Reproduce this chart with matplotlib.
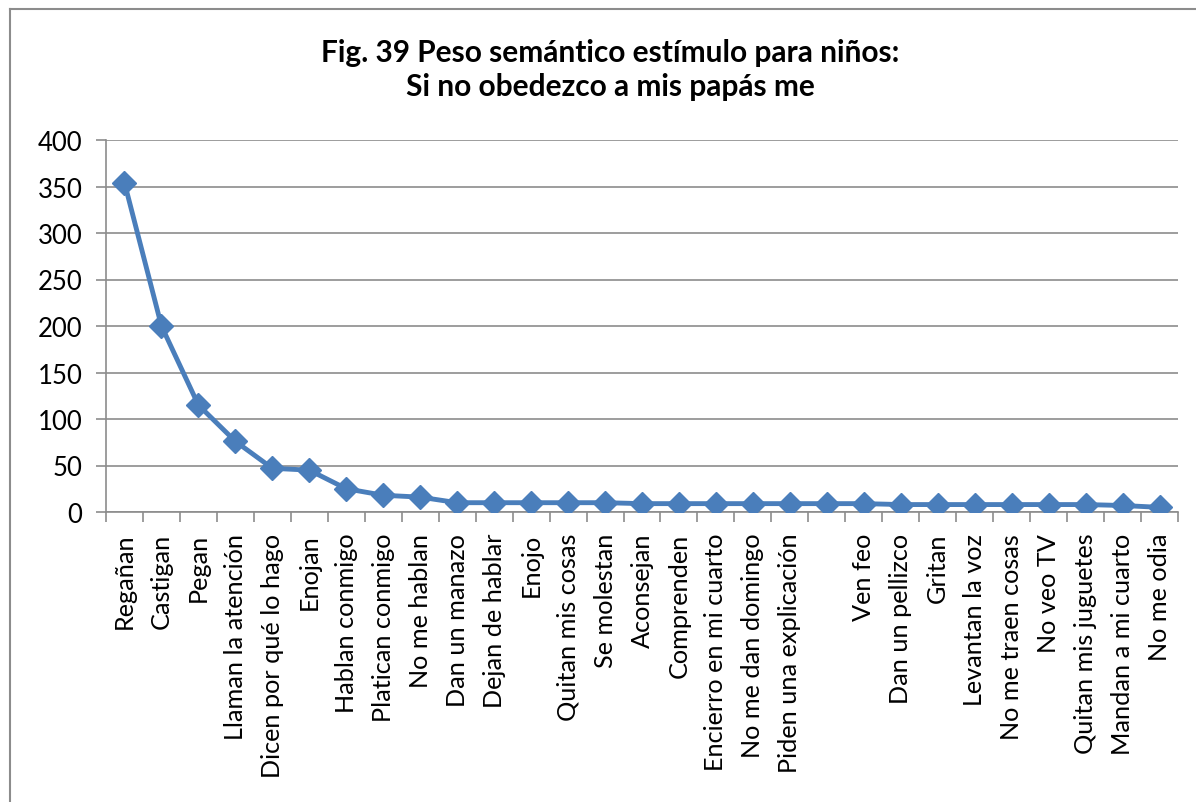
import matplotlib
matplotlib.use("Agg")
import matplotlib.pyplot as plt
from matplotlib.lines import Line2D
from matplotlib.ticker import FixedLocator, NullFormatter

plt.rcParams['font.family'] = ['Lato', 'DejaVu Sans']

categories = [
    "Regañan", "Castigan", "Pegan", "Llaman la atención", "Dicen por qué lo hago",
    "Enojan", "Hablan conmigo", "Platican conmigo", "No me hablan", "Dan un manazo",
    "Dejan de hablar", "Enojo", "Quitan mis cosas", "Se molestan", "Aconsejan",
    "Comprenden", "Encierro en mi cuarto", "No me dan domingo", "Piden una explicación",
    "", "Ven feo", "Dan un pellizco", "Gritan", "Levantan la voz", "No me traen cosas",
    "No veo TV", "Quitan mis juguetes", "Mandan a mi cuarto", "No me odia",
]
peso = [354, 200, 115, 76, 47, 45, 25, 18, 16, 10,
        10, 10, 10, 10, 9, 9, 9, 9, 9,
        9, 9, 8, 8, 8, 8, 8, 8, 7, 5]
yticks = [0, 50, 100, 150, 200, 250, 300, 350, 400]
title = "Fig. 39 Peso semántico estímulo para niños:\nSi no obedezco a mis papás me"

W, H = 1196, 803
fig = plt.figure(figsize=(W / 100, H / 100), dpi=100)
fig.patch.set_facecolor("white")

# chart-area frame (left and top edges)
frame_col = "#8c8c8c"
fig.add_artist(Line2D([10 / W, 10 / W], [0, 1 - 10 / H], color=frame_col, lw=1.5,
                      transform=fig.transFigure))
fig.add_artist(Line2D([10 / W, 1], [1 - 10 / H, 1 - 10 / H], color=frame_col, lw=1.5,
                      transform=fig.transFigure))

ax = fig.add_axes([106 / W, 1 - 513 / H, (1178 - 106) / W, (513 - 141) / H])

x = list(range(len(categories)))
ax.plot(x, peso, color="#4A7EBB", lw=3.5, marker="D", markersize=12,
        markerfacecolor="#4A7EBB", markeredgecolor="#4A7EBB", zorder=3)

ax.set_xlim(-0.5, len(categories) - 0.5)
ax.set_ylim(0, 400)
ax.set_yticks(yticks)
ax.set_yticklabels([str(v) for v in yticks])

grid_col = "#8c8c8c"
ax.yaxis.grid(True, color=grid_col, lw=1.2)
ax.set_axisbelow(True)

for s in ["top", "right"]:
    ax.spines[s].set_visible(False)
for s in ["left", "bottom"]:
    ax.spines[s].set_color(grid_col)
    ax.spines[s].set_linewidth(1.2)

ax.set_xticks(x)
ax.set_xticklabels(categories, rotation=90, ha="center", va="top")
ax.tick_params(axis="x", which="major", length=0, pad=15, labelsize=18.2)
ax.xaxis.set_minor_locator(FixedLocator([i - 0.5 for i in range(len(categories) + 1)]))
ax.xaxis.set_minor_formatter(NullFormatter())
ax.tick_params(axis="x", which="minor", length=7, width=1.2, color=grid_col, direction="out")
ax.tick_params(axis="y", length=7, width=1.2, color=grid_col, labelsize=18.5, pad=10)

fig.text(610 / W, 1 - 70 / H, title, ha="center", va="center", fontsize=21.5,
         fontweight="bold", linespacing=1.3)

fig.savefig("out.png", dpi=100, facecolor="white")
